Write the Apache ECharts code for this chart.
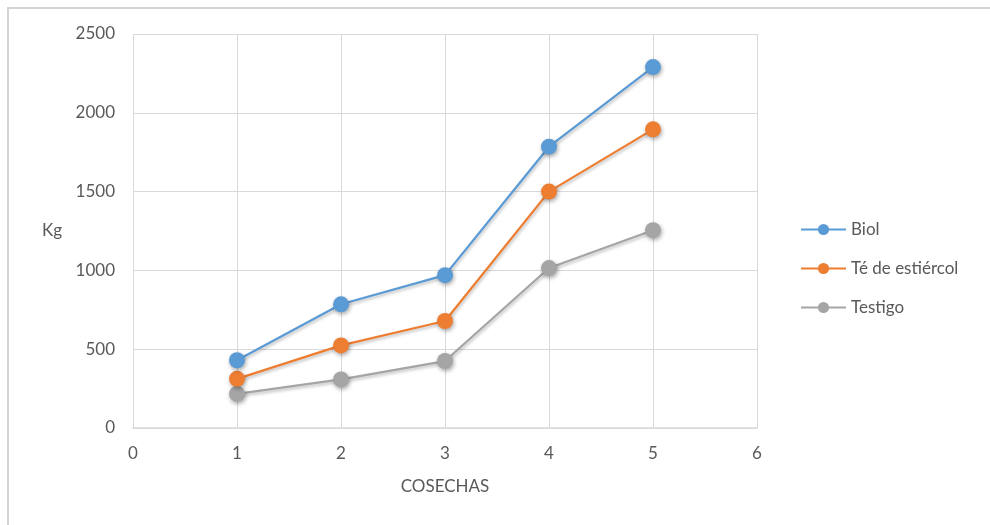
<!DOCTYPE html>
<html>
<head>
<meta charset="utf-8">
<script src="https://cdn.jsdelivr.net/npm/echarts@6/dist/echarts.min.js"></script>
<style>
  html, body { margin: 0; padding: 0; background: #ffffff; }
  #chart { width: 990px; height: 525px; }
</style>
</head>
<body>
<div id="chart"></div>
<script>
// Harvest number (x) and yield in kg (y) per treatment
const cosechas = [1, 2, 3, 4, 5];
const biol = [430, 785, 970, 1785, 2290];
const teEstiercol = [312, 524, 679, 1500, 1895];
const testigo = [217, 308, 425, 1015, 1255];

const seriesNames = ['Biol', 'Té de estiércol', 'Testigo'];
const seriesColors = ['#5B9BD5', '#ED7D31', '#A5A5A5'];
const seriesValues = [biol, teEstiercol, testigo];

const FONT = 'Lato, "Open Sans", sans-serif';
const TEXT = '#595959';
const GRID = '#d9d9d9';

const chart = echarts.init(document.getElementById('chart'), null, { renderer: 'canvas' });

const series = seriesNames.map((name, i) => ({
  name: name,
  type: 'line',
  data: cosechas.map((x, j) => [x, seriesValues[i][j]]),
  symbol: 'circle',
  symbolSize: 16,
  color: seriesColors[i],
  lineStyle: {
    width: 2.25,
    color: seriesColors[i],
    shadowColor: 'rgba(0,0,0,0.25)',
    shadowBlur: 3,
    shadowOffsetX: 1,
    shadowOffsetY: 2
  },
  itemStyle: {
    color: seriesColors[i],
    shadowColor: 'rgba(0,0,0,0.35)',
    shadowBlur: 4,
    shadowOffsetX: 1,
    shadowOffsetY: 2
  },
  emphasis: { disabled: true },
  z: 3 - i
}));

chart.setOption({
  animation: false,
  backgroundColor: '#ffffff',
  textStyle: { fontFamily: FONT },
  grid: { left: 133, right: 233, top: 34, bottom: 97, containLabel: false },
  legend: {
    orient: 'vertical',
    left: 795,
    top: 216,
    itemWidth: 45,
    itemHeight: 14,
    itemGap: 22,
    data: seriesNames,
    textStyle: { color: TEXT, fontSize: 17, fontFamily: FONT, padding: [0, 0, 0, 0] }
  },
  xAxis: {
    type: 'value',
    min: 0,
    max: 6,
    interval: 1,
    name: 'COSECHAS',
    nameLocation: 'middle',
    nameGap: 50,
    nameTextStyle: { color: TEXT, fontSize: 17, fontFamily: FONT },
    axisLine: { show: true, lineStyle: { color: GRID, width: 1.5 } },
    axisTick: { show: false },
    axisLabel: { color: TEXT, fontSize: 17, margin: 17, fontFamily: FONT },
    splitLine: { show: true, lineStyle: { color: GRID, width: 1 } }
  },
  yAxis: {
    type: 'value',
    min: 0,
    max: 2500,
    interval: 500,
    name: 'Kg',
    nameLocation: 'middle',
    nameRotate: 0,
    nameGap: 71,
    nameTextStyle: { color: TEXT, fontSize: 17, fontFamily: FONT },
    axisLine: { show: false },
    axisTick: { show: false },
    axisLabel: {
      color: TEXT,
      fontSize: 17,
      margin: 18,
      fontFamily: FONT,
      formatter: (v) => String(v)
    },
    splitLine: { show: true, lineStyle: { color: GRID, width: 1 } }
  },
  graphic: [
    {
      type: 'polyline',
      shape: { points: [[8, 525], [8, 8], [990, 8]] },
      style: { stroke: '#d4d4d4', lineWidth: 2, fill: null },
      silent: true
    }
  ],
  series: series
});
</script>
</body>
</html>
